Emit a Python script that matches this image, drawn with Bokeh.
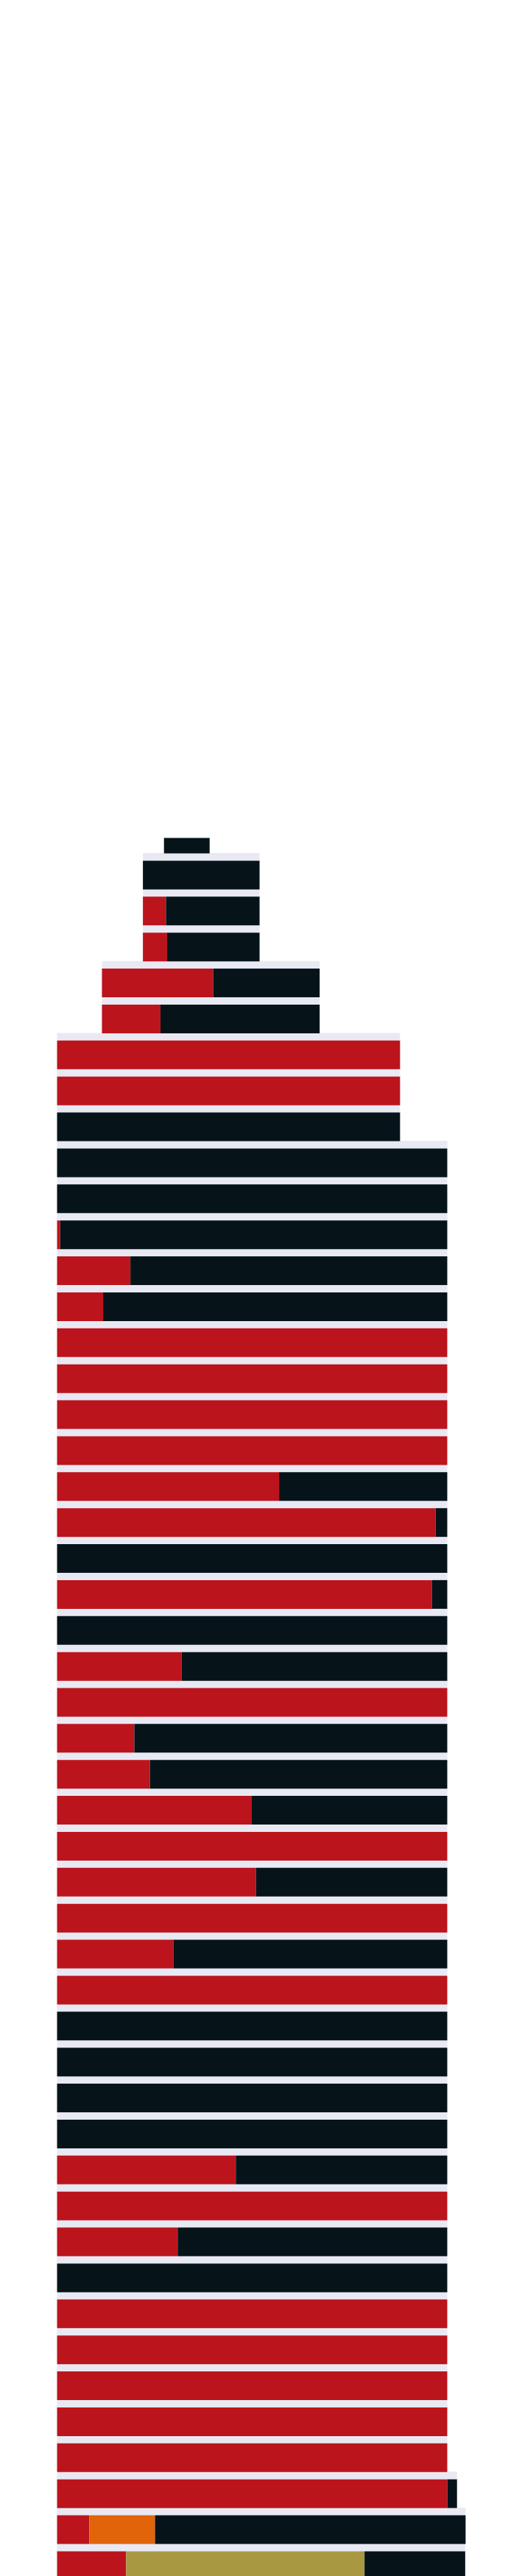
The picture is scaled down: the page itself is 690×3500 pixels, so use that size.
import numpy as np
from bokeh.plotting import figure
from bokeh.models import Range1d, ColumnDataSource
from bokeh.embed import file_html
from bokeh.resources import INLINE

# ---- data: one entry per floor (row), top to bottom ----
rows = list(range(1, 50))
start = [27.4, 22.0, 22.0, 22.0, 11.5, 11.5] + [0.0] * 43
red = [0, 0, 5.9, 6.2, 28.5, 15.0, 87.9, 87.9, 0, 0,
       0, 0.8, 18.8, 11.8, 100, 100, 100, 100, 56.9, 97.0,
       0, 96.1, 0, 31.9, 100, 19.8, 23.8, 49.9, 100, 51.0,
       100, 29.8, 100, 0, 0, 0, 0, 45.8, 100, 30.9,
       0, 100, 100, 100, 100, 100, 100, 8.3, 17.7]
orange = [0] * 47 + [16.8, 0]
olive = [0] * 48 + [61.1]
black = [11.7, 29.9, 24.0, 23.7, 27.3, 40.8, 0, 0, 87.9, 100,
         100, 99.2, 81.2, 88.2, 0, 0, 0, 0, 43.1, 3.0,
         100, 3.9, 100, 68.1, 0, 80.2, 76.2, 50.1, 0, 49.0,
         0, 70.2, 0, 100, 100, 100, 100, 54.2, 0, 69.1,
         100, 0, 0, 0, 0, 0, 2.5, 79.6, 25.8]

# ---- styling ----
RED = "#bc141c"
BLACK = "#06141a"
ORANGE = "#e1630a"
OLIVE = "#a99842"
LAVENDER = "#e9e9f3"
BAR_H = 0.798
GAP = 0.202
STUB_H = 0.43

y = np.array(rows, dtype=float)
s = np.array(start)
r = np.array(red)
o = np.array(orange)
ol = np.array(olive)
b = np.array(black)

red_l, red_r = s, s + r
mid_l = red_r
mid_r_or = mid_l + o
mid_r = mid_r_or + ol
blk_l, blk_r = mid_r, mid_r + b
total_r = blk_r

# bar centres; the top floor (antenna stub) is a short bar sitting on the floor below
bar_y = y.copy()
bar_h = np.full(len(y), BAR_H)
bar_y[0] = y[0] + BAR_H / 2 - STUB_H / 2
bar_h[0] = STUB_H

p = figure(width=690, height=3500,
           x_range=Range1d(-14.528, 115.66),
           y_range=Range1d(49.299, -22.319),
           output_backend="svg", toolbar_location=None,
           min_border=0, background_fill_color="white",
           border_fill_color="white")
p.axis.visible = False
p.grid.visible = False
p.outline_line_color = None

# lavender gaps between floors
gap_src = ColumnDataSource(dict(y=y[1:] - BAR_H / 2 - GAP / 2 + 0.005,
                                left=s[1:], right=total_r[1:]))
p.hbar(y="y", left="left", right="right", height=GAP + 0.03,
       source=gap_src, fill_color=LAVENDER, line_color=None)


def segs(left, right, color):
    m = right > left
    src = ColumnDataSource(dict(y=bar_y[m], h=bar_h[m], left=left[m], right=right[m]))
    p.hbar(y="y", left="left", right="right", height="h", source=src,
           fill_color=color, line_color=None)


segs(red_l, red_r, RED)
segs(mid_l, mid_r_or, ORANGE)
segs(mid_r_or, mid_r, OLIVE)
segs(blk_l, blk_r, BLACK)

open("out.html", "w").write(file_html(p, INLINE))
